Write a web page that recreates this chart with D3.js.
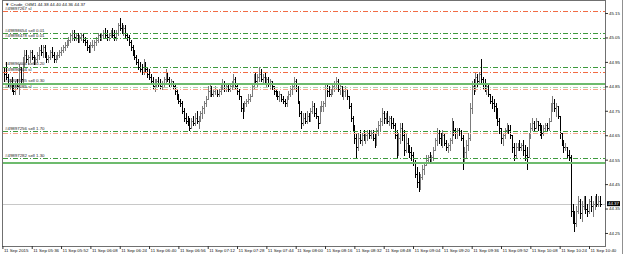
<!DOCTYPE html>
<html>
<head>
<meta charset="utf-8">
<script src="https://cdn.jsdelivr.net/npm/d3@7"></script>
<style>
html, body { margin: 0; padding: 0; background: #fff; }
svg { display: block; }
</style>
</head>
<body>
<svg id="chart" width="625" height="254"></svg>
<script>
'use strict';

const symbolTitle = '\u25BC Crude_OilM1 44.38 44.40 44.36 44.37';
const firstBarTime = '05:21';
const firstOpen = 44.91;
const bidPrice = 44.37;

const highs = [
    44.93,44.95,44.90,44.88,44.89,44.86,44.87,44.88,44.94,44.93,
    44.97,45.00,45.00,44.98,45.00,45.00,44.98,44.97,44.99,45.01,
    45.02,45.02,45.02,44.99,44.98,45.00,45.01,44.99,44.98,44.99,
    45.00,45.01,45.02,45.03,45.04,45.05,45.07,45.08,45.08,45.07,
    45.07,45.06,45.07,45.07,45.05,45.04,45.02,45.03,45.04,45.04,
    45.05,45.07,45.07,45.07,45.08,45.09,45.08,45.07,45.08,45.09,
    45.08,45.08,45.11,45.13,45.11,45.10,45.10,45.07,45.06,45.04,
    45.02,45.00,44.98,44.96,44.95,44.94,44.96,44.95,44.93,44.92,
    44.90,44.89,44.88,44.88,44.89,44.88,44.87,44.89,44.92,44.91,
    44.89,44.88,44.87,44.86,44.84,44.82,44.80,44.79,44.76,44.74,
    44.73,44.72,44.72,44.73,44.74,44.75,44.73,44.75,44.77,44.79,
    44.81,44.85,44.86,44.85,44.84,44.85,44.84,44.84,44.86,44.88,
    44.87,44.86,44.86,44.86,44.87,44.90,44.89,44.86,44.84,44.81,
    44.78,44.79,44.80,44.82,44.82,44.86,44.90,44.91,44.90,44.93,
    44.92,44.90,44.91,44.89,44.89,44.88,44.87,44.85,44.84,44.83,
    44.83,44.82,44.81,44.80,44.81,44.83,44.85,44.86,44.89,44.88,
    44.85,44.79,44.75,44.74,44.74,44.75,44.74,44.76,44.79,44.78,
    44.76,44.73,44.77,44.79,44.79,44.86,44.86,44.85,44.84,44.86,
    44.87,44.89,44.88,44.86,44.85,44.84,44.85,44.84,44.81,44.78,
    44.73,44.69,44.66,44.66,44.67,44.66,44.67,44.66,44.67,44.67,
    44.67,44.67,44.66,44.68,44.71,44.72,44.76,44.75,44.74,44.75,
    44.73,44.73,44.72,44.70,44.67,44.66,44.70,44.70,44.67,44.66,
    44.64,44.61,44.60,44.58,44.55,44.52,44.50,44.49,44.53,44.54,
    44.57,44.57,44.58,44.57,44.60,44.64,44.68,44.67,44.66,44.67,
    44.66,44.63,44.62,44.64,44.72,44.71,44.68,44.68,44.68,44.67,
    44.65,44.60,44.63,44.66,44.78,44.87,44.88,44.91,44.90,44.91,
    44.96,44.89,44.88,44.86,44.86,44.82,44.81,44.80,44.78,44.76,
    44.72,44.68,44.66,44.68,44.70,44.69,44.69,44.65,44.62,44.62,
    44.62,44.63,44.62,44.63,44.61,44.60,44.66,44.70,44.72,44.71,
    44.72,44.71,44.70,44.69,44.69,44.70,44.70,44.72,44.78,44.81,
    44.80,44.78,44.77,44.73,44.66,44.63,44.62,44.60,44.59,44.57,
    44.37,44.34,44.36,44.40,44.39,44.38,44.40,44.40,44.37,44.39,
    44.40,44.38,44.40,44.41,44.40,44.40
];

const lows = [
    44.87,44.88,44.85,44.84,44.83,44.82,44.82,44.84,44.82,44.86,
    44.86,44.93,44.95,44.94,44.95,44.96,44.94,44.94,44.95,44.96,
    44.98,44.97,44.97,44.95,44.95,44.96,44.97,44.95,44.95,44.96,
    44.97,44.98,44.99,45.00,45.01,45.02,45.03,45.04,45.04,45.04,
    45.03,45.03,45.04,45.03,45.02,45.00,44.99,44.99,45.01,45.00,
    45.02,45.03,45.04,45.04,45.05,45.05,45.04,45.04,45.05,45.05,
    45.04,45.04,45.06,45.08,45.07,45.06,45.05,45.04,45.02,45.00,
    44.98,44.96,44.94,44.92,44.91,44.90,44.90,44.91,44.89,44.88,
    44.86,44.84,44.83,44.85,44.85,44.84,44.84,44.85,44.86,44.87,
    44.85,44.85,44.84,44.82,44.80,44.78,44.77,44.74,44.71,44.70,
    44.69,44.67,44.68,44.69,44.69,44.70,44.68,44.71,44.72,44.74,
    44.77,44.80,44.81,44.81,44.81,44.82,44.81,44.81,44.82,44.84,
    44.83,44.83,44.83,44.83,44.84,44.85,44.84,44.82,44.80,44.75,
    44.72,44.75,44.77,44.78,44.79,44.81,44.84,44.86,44.85,44.87,
    44.87,44.86,44.86,44.85,44.85,44.84,44.84,44.82,44.81,44.80,
    44.79,44.79,44.78,44.77,44.77,44.80,44.81,44.82,44.84,44.83,
    44.78,44.73,44.68,44.69,44.70,44.70,44.71,44.71,44.74,44.73,
    44.72,44.68,44.70,44.75,44.75,44.77,44.81,44.81,44.81,44.82,
    44.83,44.84,44.83,44.82,44.81,44.80,44.81,44.80,44.76,44.71,
    44.67,44.62,44.56,44.59,44.62,44.61,44.63,44.62,44.63,44.64,
    44.64,44.63,44.60,44.61,44.65,44.67,44.69,44.70,44.70,44.70,
    44.69,44.68,44.68,44.64,44.56,44.57,44.62,44.63,44.57,44.58,
    44.58,44.56,44.55,44.53,44.48,44.44,44.42,44.43,44.47,44.49,
    44.53,44.54,44.54,44.54,44.55,44.59,44.61,44.62,44.61,44.60,
    44.61,44.59,44.58,44.59,44.62,44.65,44.64,44.64,44.65,44.63,
    44.51,44.54,44.56,44.59,44.63,44.74,44.82,44.83,44.85,44.86,
    44.86,44.84,44.83,44.82,44.81,44.78,44.76,44.75,44.72,44.69,
    44.66,44.62,44.61,44.64,44.66,44.66,44.64,44.58,44.55,44.56,
    44.59,44.59,44.59,44.57,44.55,44.51,44.56,44.64,44.67,44.67,
    44.68,44.67,44.65,44.64,44.65,44.67,44.67,44.67,44.71,44.75,
    44.75,44.73,44.72,44.64,44.61,44.58,44.59,44.56,44.55,44.32,
    44.29,44.26,44.28,44.33,44.31,44.30,44.35,44.33,44.32,44.33,
    44.34,44.32,44.35,44.36,44.36,44.36
];

const closes = [
    44.90,44.89,44.86,44.87,44.84,44.83,44.86,44.85,44.92,44.88,
    44.95,44.98,44.96,44.97,44.99,44.97,44.95,44.96,44.98,45.00,
    44.99,45.01,44.98,44.96,44.97,44.99,44.98,44.96,44.97,44.98,
    44.99,45.00,45.01,45.02,45.03,45.04,45.06,45.07,45.05,45.06,
    45.04,45.05,45.06,45.04,45.03,45.01,45.00,45.02,45.02,45.03,
    45.04,45.06,45.05,45.06,45.07,45.06,45.05,45.06,45.07,45.06,
    45.05,45.07,45.10,45.09,45.08,45.09,45.06,45.05,45.03,45.01,
    44.99,44.97,44.95,44.93,44.92,44.91,44.94,44.92,44.90,44.89,
    44.87,44.85,44.86,44.87,44.86,44.85,44.86,44.88,44.90,44.88,
    44.86,44.87,44.85,44.83,44.81,44.79,44.78,44.75,44.72,44.71,
    44.70,44.68,44.71,44.70,44.72,44.71,44.72,44.74,44.76,44.78,
    44.80,44.83,44.84,44.82,44.83,44.84,44.82,44.83,44.85,44.86,
    44.84,44.85,44.84,44.85,44.86,44.88,44.85,44.83,44.81,44.76,
    44.75,44.78,44.79,44.80,44.81,44.85,44.88,44.87,44.89,44.90,
    44.88,44.89,44.87,44.88,44.86,44.87,44.85,44.83,44.82,44.81,
    44.82,44.80,44.79,44.78,44.80,44.82,44.84,44.85,44.87,44.84,
    44.79,44.74,44.70,44.72,44.71,44.73,44.72,44.75,44.77,44.74,
    44.73,44.70,44.76,44.77,44.78,44.84,44.83,44.82,44.83,44.85,
    44.86,44.87,44.84,44.85,44.82,44.83,44.84,44.81,44.77,44.72,
    44.69,44.64,44.60,44.64,44.63,44.65,44.64,44.65,44.66,44.65,
    44.66,44.64,44.62,44.67,44.69,44.71,44.74,44.72,44.73,44.71,
    44.72,44.70,44.69,44.65,44.58,44.64,44.68,44.65,44.59,44.62,
    44.60,44.58,44.57,44.54,44.49,44.46,44.44,44.48,44.51,44.53,
    44.55,44.56,44.55,44.56,44.59,44.63,44.66,44.64,44.62,44.65,
    44.62,44.60,44.61,44.63,44.70,44.67,44.66,44.67,44.66,44.64,
    44.55,44.58,44.61,44.64,44.76,44.85,44.84,44.89,44.87,44.90,
    44.88,44.86,44.84,44.85,44.82,44.79,44.78,44.77,44.74,44.71,
    44.68,44.64,44.65,44.67,44.68,44.67,44.65,44.60,44.57,44.60,
    44.61,44.60,44.61,44.59,44.57,44.56,44.64,44.68,44.70,44.68,
    44.71,44.69,44.67,44.66,44.68,44.69,44.68,44.71,44.77,44.78,
    44.76,44.77,44.73,44.66,44.62,44.60,44.60,44.57,44.56,44.34,
    44.31,44.29,44.34,44.38,44.33,44.36,44.39,44.35,44.34,44.38,
    44.36,44.37,44.39,44.37,44.38,44.37
];

const tickTimes = ['05:20', '05:36', '05:52', '06:08', '06:24', '06:40', '06:56',
    '07:12', '07:28', '07:44', '08:00', '08:16', '08:32', '08:48', '09:04',
    '09:20', '09:36', '09:52', '10:08', '10:24', '10:40'];
const timeLabels = ['11 Sep 2015', '11 Sep 05:36', '11 Sep 05:52', '11 Sep 06:08',
    '11 Sep 06:24', '11 Sep 06:40', '11 Sep 06:56', '11 Sep 07:12', '11 Sep 07:28',
    '11 Sep 07:44', '11 Sep 08:00', '11 Sep 08:16', '11 Sep 08:32', '11 Sep 08:48',
    '11 Sep 09:04', '11 Sep 09:20', '11 Sep 09:36', '11 Sep 09:52', '11 Sep 10:08',
    '11 Sep 10:24', '11 Sep 10:40'];
const priceTicks = [44.25, 44.35, 44.45, 44.55, 44.65, 44.75, 44.85, 44.95, 45.05, 45.15];

// order / stop lines drawn on the chart
const levelPrices = [45.158, 45.067, 45.046, 44.930, 44.907, 44.860, 44.848, 44.839, 44.666, 44.658, 44.555, 44.537];
const levelKinds = ['stop', 'order', 'order', 'order', 'stop', 'hline', 'orderFaint', 'stopFaint', 'order', 'stopFaint', 'order', 'hline'];
const levelLabels = ['#49897267 sl', '#49898654 sell 0.01', '#49898478 sell 0.01',
    '#49896604 sell 0.20', '#49896604 sl', '#49897085 sell 0.30', '', '#49897085 sl',
    '#49897256 sell 1.70', '', '#49897282 sell 1.30', ''];

const toMinutes = s => {
    const [h, m] = s.split(':').map(Number);
    return h * 60 + m;
};

class BarChart {
    constructor(selector) {
        this.svg = d3.select(selector);
        this.font = '"Liberation Sans", Arial, sans-serif';
        this.fontSize = 4.4;
        this.plot = {left: 2, right: 605, top: 1, bottom: 246};
        this.setUpEnvironment();
        this.drawChart();
    }

    setUpEnvironment() {
        const start = toMinutes(tickTimes[0]);
        const first = toMinutes(firstBarTime);
        this.bars = closes.map((c, i) => ({
            t: first + i,
            o: i === 0 ? firstOpen : closes[i - 1],
            h: highs[i],
            l: lows[i],
            c: c
        }));

        // 1.833 px per minute, as on the terminal
        this.xScale = d3.scaleLinear()
            .domain([start, first + closes.length - 1])
            .range([2.4, 600]);

        this.yScale = d3.scaleLinear()
            .domain([44.2, 45.2])
            .range([245.2, 0.8]);

        this.levelStyle = {
            stop: {stroke: '#f26b43', width: 1, dash: '5,2,1,2'},
            stopFaint: {stroke: '#f6a58c', width: 1, dash: '5,2,1,2'},
            order: {stroke: '#3d9a3d', width: 1, dash: '5,2,1,2'},
            orderFaint: {stroke: '#a9d6a9', width: 1, dash: '5,2,1,2'},
            hline: {stroke: '#6dbb6d', width: 2, dash: null}
        };
    }

    drawChart() {
        this.drawFrame();
        this.drawBid();
        this.drawBars();
        this.drawLevels();
        this.drawXAxis();
        this.drawYAxis();
        this.drawTitle();
    }

    drawFrame() {
        const p = this.plot;
        this.svg.append('rect')
            .attr('x', p.left + 0.5)
            .attr('y', p.top - 0.5)
            .attr('width', p.right - p.left)
            .attr('height', p.bottom - p.top + 0.5)
            .attr('fill', 'none')
            .attr('stroke', '#707070')
            .attr('shape-rendering', 'crispEdges');

        // window edge on the right
        this.svg.append('line')
            .attr('x1', 622.5)
            .attr('x2', 622.5)
            .attr('y1', 0)
            .attr('y2', 254)
            .attr('stroke', '#909090')
            .attr('shape-rendering', 'crispEdges');
    }

    drawBid() {
        const y = Math.round(this.yScale(bidPrice)) + 0.5;
        this.svg.append('line')
            .attr('x1', this.plot.left + 1)
            .attr('x2', this.plot.right)
            .attr('y1', y)
            .attr('y2', y)
            .attr('stroke', '#c8c8c8')
            .attr('shape-rendering', 'crispEdges');
    }

    drawBars() {
        const px = v => Math.round(v) + 0.5;
        const path = d => {
            const x = px(this.xScale(d.t));
            const yh = Math.round(this.yScale(d.h));
            const yl = Math.round(this.yScale(d.l)) + 1;
            const yo = px(this.yScale(d.o));
            const yc = px(this.yScale(d.c));
            return `M${x},${yh}V${yl}M${x - 1},${yo}H${x}M${x},${yc}H${x + 1}`;
        };

        this.svg.append('g')
            .attr('class', 'bars')
            .selectAll('path')
            .data(this.bars)
            .enter()
            .append('path')
            .attr('d', path)
            .attr('fill', 'none')
            .attr('stroke', d => d.c >= d.o ? '#7c7c7c' : '#000')
            .attr('stroke-width', 1)
            .attr('shape-rendering', 'crispEdges');
    }

    drawLevels() {
        const levels = levelPrices.map((p, i) => ({
            price: p,
            style: this.levelStyle[levelKinds[i]],
            label: levelLabels[i]
        }));
        const yOf = d => d.style.width === 2
            ? Math.round(this.yScale(d.price))
            : Math.round(this.yScale(d.price)) + 0.5;

        const g = this.svg.append('g').attr('class', 'levels');
        g.selectAll('line')
            .data(levels)
            .enter()
            .append('line')
            .attr('x1', this.plot.left + 1)
            .attr('x2', this.plot.right)
            .attr('y1', yOf)
            .attr('y2', yOf)
            .attr('stroke', d => d.style.stroke)
            .attr('stroke-width', d => d.style.width)
            .attr('stroke-dasharray', d => d.style.dash)
            .attr('shape-rendering', 'crispEdges');

        g.selectAll('text')
            .data(levels.filter(d => d.label))
            .enter()
            .append('text')
            .attr('x', 5)
            .attr('y', d => this.yScale(d.price) - 1.5)
            .attr('font-family', this.font)
            .attr('font-size', this.fontSize)
            .attr('fill', '#222')
            .text(d => d.label);
    }

    drawXAxis() {
        const xAxis = d3.axisBottom(this.xScale)
            .tickValues(tickTimes.map(toMinutes))
            .tickSize(3)
            .tickFormat((d, i) => timeLabels[i]);

        const g = this.svg.append('g')
            .attr('transform', `translate(0,${this.plot.bottom})`)
            .call(xAxis);
        g.attr('font-family', this.font).attr('font-size', this.fontSize);
        g.select('.domain').remove();
        g.selectAll('.tick line').attr('stroke', '#333');
        g.selectAll('.tick text')
            .attr('text-anchor', 'start')
            .attr('x', 1)
            .attr('y', 6)
            .attr('dy', 0)
            .attr('fill', '#111');
    }

    drawYAxis() {
        const yAxis = d3.axisRight(this.yScale)
            .tickValues(priceTicks)
            .tickSize(3)
            .tickPadding(1)
            .tickFormat(d3.format('.2f'));

        const g = this.svg.append('g')
            .attr('transform', `translate(${this.plot.right},0)`)
            .call(yAxis);
        g.attr('font-family', this.font).attr('font-size', this.fontSize);
        g.select('.domain').remove();
        g.selectAll('.tick line').attr('stroke', '#333');
        g.selectAll('.tick text').attr('fill', '#111');

        // current price tag
        const y = this.yScale(bidPrice);
        this.svg.append('rect')
            .attr('x', this.plot.right + 2)
            .attr('y', y - 2.5)
            .attr('width', 13)
            .attr('height', 5)
            .attr('fill', '#000');
        this.svg.append('text')
            .attr('x', this.plot.right + 3)
            .attr('y', y + 1.5)
            .attr('font-family', this.font)
            .attr('font-size', this.fontSize)
            .attr('fill', '#fff')
            .text(d3.format('.2f')(bidPrice));
    }

    drawTitle() {
        this.svg.append('text')
            .attr('x', 5)
            .attr('y', 5.5)
            .attr('font-family', this.font)
            .attr('font-size', this.fontSize)
            .attr('fill', '#111')
            .text(symbolTitle);
    }
}

new BarChart('#chart');
</script>
</body>
</html>
